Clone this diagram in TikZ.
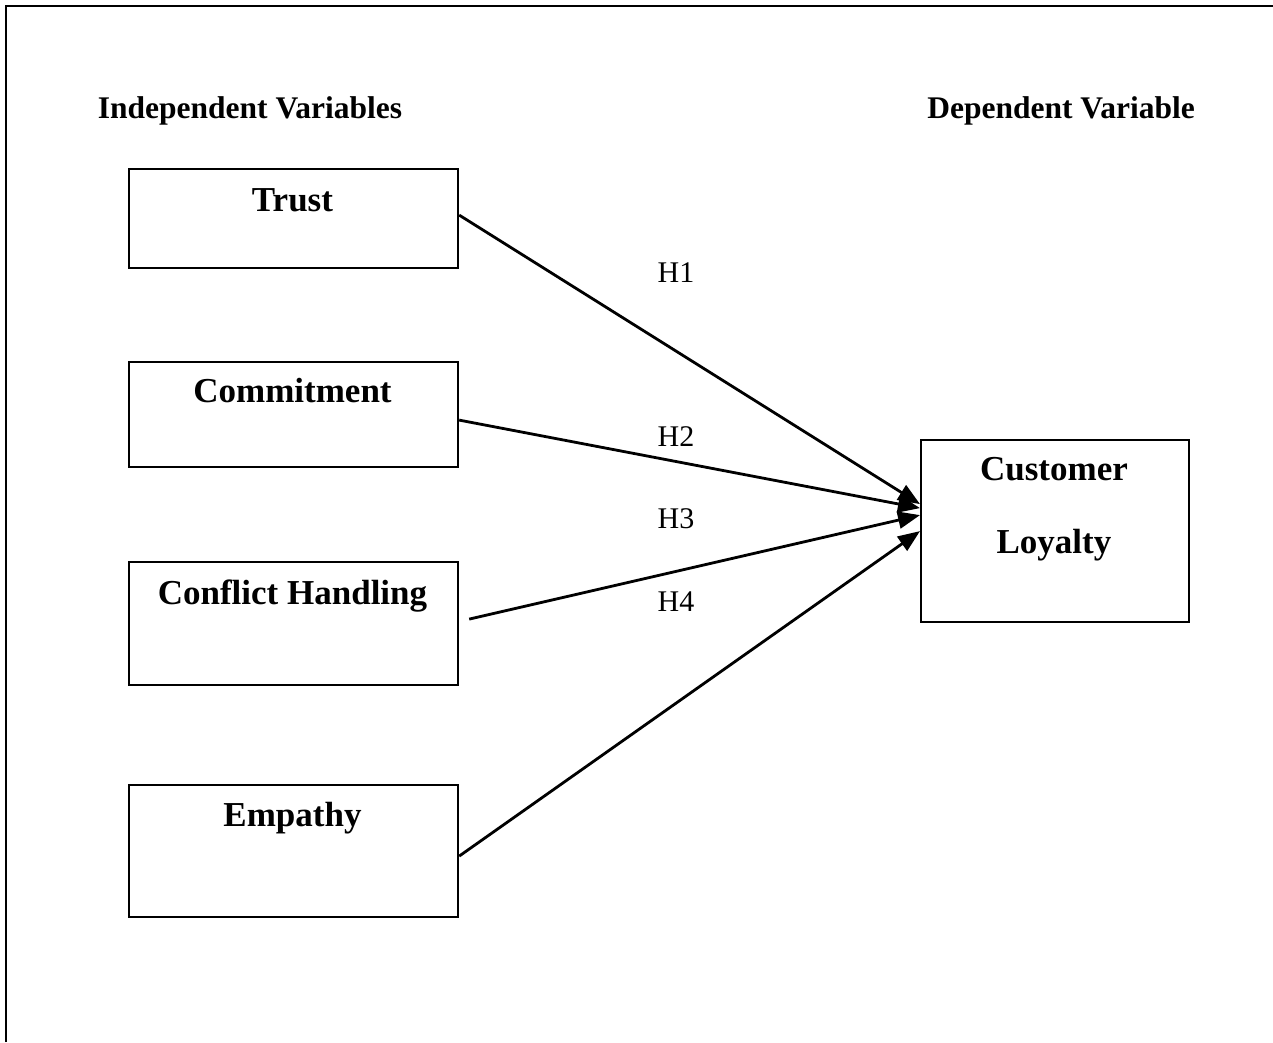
\documentclass[tikz,border=0pt]{standalone}
\usepackage{fontspec}
\setmainfont{Liberation Serif}
\usetikzlibrary{arrows.meta}
\begin{document}
\begin{tikzpicture}[x=1pt,y=-1pt,
  varbox/.style={draw, line width=2.2pt, rectangle, inner sep=0pt, anchor=north west},
  boxtxt/.style={anchor=base, inner sep=0pt, font=\fontsize{35}{40}\selectfont\bfseries},
  headtxt/.style={anchor=base, inner sep=0pt, font=\fontsize{31.5}{36}\selectfont\bfseries},
  hyp/.style={anchor=base, inner sep=0pt, font=\fontsize{30}{36}\selectfont},
  link/.style={line width=2.8pt, -{Triangle[length=22pt,width=17pt]}}
]
\useasboundingbox (0,0) rectangle (1273,1042);
% outer frame (top and left edges)
\draw[line width=2.8pt] (6,1042) -- (6,6) -- (1273,6);

% headings
\node[headtxt] (indep) at (250,118) {Independent Variables};
\node[headtxt] (dep) at (1061,118) {Dependent Variable};

% independent variable boxes
\node[varbox, minimum width=329pt, minimum height=99pt]  (trust)  at (128,168) {};
\node[varbox, minimum width=329pt, minimum height=105pt] (commit) at (128,361) {};
\node[varbox, minimum width=329pt, minimum height=123pt] (confl)  at (128,561) {};
\node[varbox, minimum width=329pt, minimum height=132pt] (empat)  at (128,784) {};
% dependent variable box
\node[varbox, minimum width=268pt, minimum height=182pt] (loyal)  at (920,439) {};

% box captions
\node[boxtxt] (trustlbl)  at (292.5,211) {Trust};
\node[boxtxt] (commitlbl) at (292.5,402) {Commitment};
\node[boxtxt] (confllbl)  at (292.5,604) {Conflict Handling};
\node[boxtxt] (empatlbl)  at (292.5,826) {Empathy};
\node[boxtxt] (loyallbl1) at (1054,480) {Customer};
\node[boxtxt] (loyallbl2) at (1054,553) {Loyalty};

% hypothesis paths
\draw[link] ([yshift=3.5pt]trust.east) -- ([yshift=27pt]loyal.west);
\draw[link] ([yshift=-5.5pt]commit.east) -- ([yshift=23pt]loyal.west);
\draw[link] ([xshift=10pt,yshift=4.5pt]confl.east) -- ([yshift=16pt]loyal.west);
\draw[link] ([yshift=-5pt]empat.east) -- (loyal.west);

% hypothesis labels
\node[hyp] (h1) at (676,282) {H1};
\node[hyp] (h2) at (676,446) {H2};
\node[hyp] (h3) at (676,528) {H3};
\node[hyp] (h4) at (676,611) {H4};
\end{tikzpicture}
\end{document}
